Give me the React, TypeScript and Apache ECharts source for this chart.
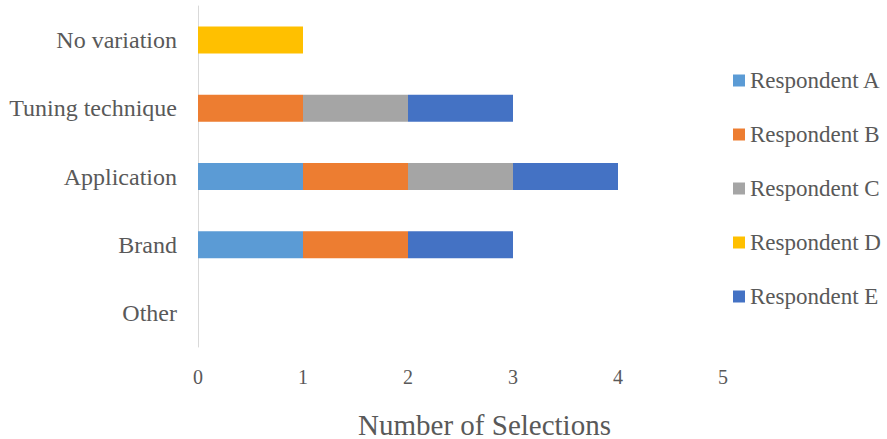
import React, { useEffect, useRef } from "react";
import * as echarts from "echarts";

const categories = ["Other", "Brand", "Application", "Tuning technique", "No variation"];
const seriesNames = ["Respondent A", "Respondent B", "Respondent C", "Respondent D", "Respondent E"];
const respondentA = [0, 1, 1, 0, 0];
const respondentB = [0, 1, 1, 1, 0];
const respondentC = [0, 0, 1, 1, 0];
const respondentD = [0, 0, 0, 0, 1];
const respondentE = [0, 1, 1, 1, 0];
const colors = ["#5B9BD5", "#ED7D31", "#A5A5A5", "#FFC000", "#4472C4"];
const xTicks = [0, 1, 2, 3, 4, 5];

const FONT = "Times New Roman, Liberation Serif, DejaVu Serif, serif";
const TEXT = "#595959";

export default function App() {
  const ref = useRef<HTMLDivElement>(null);
  useEffect(() => {
    if (!ref.current) return;
    const chart = echarts.init(ref.current, null, { renderer: "svg" });
    const data = [respondentA, respondentB, respondentC, respondentD, respondentE];
    chart.setOption({
      animation: false,
      textStyle: { fontFamily: FONT, color: TEXT },
      grid: { left: 198, right: 164, top: 6, bottom: 92, containLabel: false, outerBoundsMode: "none" },
      legend: {
        orient: "vertical",
        left: 733,
        top: 69,
        padding: 0,
        itemWidth: 12,
        itemHeight: 12,
        itemGap: 31,
        icon: "rect",
        data: seriesNames,
        textStyle: { fontFamily: FONT, fontSize: 23, color: TEXT },
      },
      xAxis: {
        type: "value",
        min: xTicks[0],
        max: xTicks[xTicks.length - 1],
        interval: 1,
        axisLine: { show: false },
        axisTick: { show: false },
        splitLine: { show: false },
        axisLabel: { fontFamily: FONT, fontSize: 20, color: TEXT, margin: 20 },
        name: "Number of Selections",
        nameLocation: "middle",
        nameGap: 63,
        nameTextStyle: { fontFamily: FONT, fontSize: 29, color: TEXT, padding: [0, 0, 0, 48] },
      },
      yAxis: {
        type: "category",
        data: categories,
        axisLine: { show: true, lineStyle: { color: "#D9D9D9", width: 1 } },
        axisTick: { show: false },
        splitLine: { show: false },
        axisLabel: { fontFamily: FONT, fontSize: 24, color: TEXT, margin: 21 },
      },
      series: seriesNames.map((name, i) => ({
        name,
        type: "bar",
        stack: "total",
        barWidth: 27,
        itemStyle: { color: colors[i] },
        data: data[i],
      })),
    });
    return () => chart.dispose();
  }, []);
  return <div ref={ref} style={{ width: 887, height: 439, position: "absolute", left: 0, top: 0 }} />;
}
